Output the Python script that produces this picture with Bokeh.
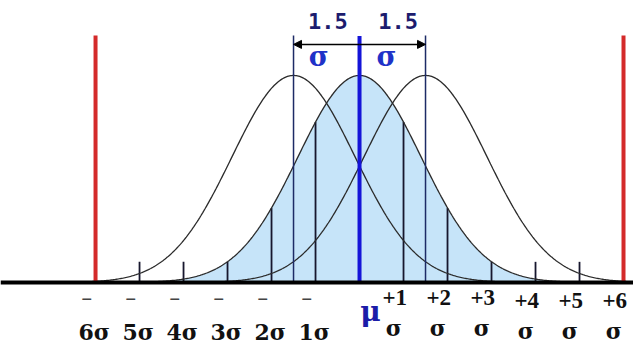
import numpy as np
from bokeh.plotting import figure
from bokeh.models import Range1d, Span, Arrow, NormalHead
from bokeh.core.properties import value
from bokeh.embed import file_html
from bokeh.resources import INLINE

# ---------------- data ----------------
sigma_ticks = [-6, -5, -4, -3, -2, -1, 0, 1, 2, 3, 4, 5, 6]
spec_limits = [-6, 6]
process_mean = 0.0
mean_shift = 1.5
curve_means = [-1.5, 0.0, 1.5]
curve_sd = 1.4          # width of each bell, in sigma-tick units
curve_peak = 1.0
curve_extent = 3.6      # bells drawn over +/- this many curve sds
min_tick_height = 0.1

neg_top_labels = ["\u2013", "\u2013", "\u2013", "\u2013", "\u2013", "\u2013"]
neg_bottom_labels = ["6\u03c3", "5\u03c3", "4\u03c3", "3\u03c3", "2\u03c3", "1\u03c3"]
pos_top_labels = ["+1", "+2", "+3", "+4", "+5", "+6"]
pos_bottom_labels = ["\u03c3", "\u03c3", "\u03c3", "\u03c3", "\u03c3", "\u03c3"]
shift_labels = ["1.5", "1.5"]
shift_sigma_labels = ["\u03c3", "\u03c3"]
mu_label = "\u03bc"

# ---------------- helpers ----------------
def bell(x, m):
    return curve_peak * np.exp(-0.5 * ((np.asarray(x, dtype=float) - m) / curve_sd) ** 2)

p = figure(width=633, height=345,
           x_range=Range1d(-8.16, 6.227), y_range=Range1d(-0.304, 1.362),
           output_backend="svg", toolbar_location=None,
           x_axis_type=None, y_axis_type=None,
           min_border=0, outline_line_color=None,
           background_fill_color="white", border_fill_color="white")
p.xgrid.visible = False
p.ygrid.visible = False

# shaded centred distribution
xc = np.linspace(process_mean - curve_extent * curve_sd,
                 process_mean + curve_extent * curve_sd, 400)
p.varea(x=xc, y1=0, y2=bell(xc, process_mean), fill_color="#c6e4f9")

# sigma-zone lines under the centred curve
inner = [k for k in sigma_ticks if k != 0 and k not in spec_limits]
heights = [max(float(bell(k, process_mean)), min_tick_height) for k in inner]
p.segment(x0=inner, y0=[0] * len(inner), x1=inner, y1=heights,
          line_color="#17172e", line_width=1.8)

# the three bells
for m in curve_means:
    xs = np.linspace(m - curve_extent * curve_sd, m + curve_extent * curve_sd, 400)
    p.line(xs, bell(xs, m), line_color="#2b2b2b", line_width=1.3)

# shifted-mean lines
top = 1.193
shifted = [process_mean - mean_shift, process_mean + mean_shift]
p.segment(x0=shifted, y0=[0, 0], x1=shifted, y1=[top, top],
          line_color="#1d2b66", line_width=1.5)

# spec limits (red)
p.segment(x0=spec_limits, y0=[0, 0], x1=spec_limits, y1=[top, top],
          line_color="#d42a2a", line_width=4)

# mean (blue)
p.segment(x0=[process_mean], y0=[0], x1=[process_mean], y1=[1.19],
          line_color="#1414d8", line_width=4)

# baseline
p.add_layout(Span(location=0, dimension="width", line_color="black", line_width=4))

# arrows showing the 1.5 sigma shift
ay = 1.15
for s in shifted:
    p.add_layout(Arrow(end=NormalHead(size=8, fill_color="black", line_color="black"),
                       x_start=process_mean, y_start=ay, x_end=s, y_end=ay,
                       line_color="black", line_width=1.5))

# shift labels
p.text(x=[-0.72, 0.88], y=[1.262, 1.262], text=shift_labels,
       text_font=value("DejaVu Sans Mono"), text_font_style="bold",
       text_font_size="22px", text_color="#1c1c6e",
       text_align="center", text_baseline="middle")
p.text(x=[-0.93, 0.61], y=[1.09, 1.09], text=shift_sigma_labels,
       text_font=value("DejaVu Serif"), text_font_style="bold",
       text_font_size="27px", text_color="#1f32c8",
       text_align="center", text_baseline="middle")

# tick labels, negative side
neg = [k for k in sigma_ticks if k < 0]
p.text(x=[k - 0.2 for k in neg], y=[-0.072] * len(neg), text=neg_top_labels,
       text_font=value("DejaVu Sans"), text_font_size="22px", text_color="#444444",
       text_align="center", text_baseline="middle")
p.text(x=[k - 0.03 for k in neg], y=[-0.24] * len(neg), text=neg_bottom_labels,
       text_font=value("DejaVu Serif"), text_font_style="bold",
       text_font_size="22px", text_color="#111111",
       text_align="center", text_baseline="middle")

# tick labels, positive side
pos = [k for k in sigma_ticks if k > 0]
p.text(x=[k - 0.2 for k in pos], y=[-0.072 if k <= 3 else -0.087 for k in pos],
       text=pos_top_labels,
       text_font=value("Liberation Serif"), text_font_style="bold",
       text_font_size="23px", text_color="#111111",
       text_align="center", text_baseline="middle")
p.text(x=[k - 0.22 for k in pos], y=[-0.218 if k <= 3 else -0.235 for k in pos],
       text=pos_bottom_labels,
       text_font=value("DejaVu Serif"), text_font_style="bold",
       text_font_size="22px", text_color="#111111",
       text_align="center", text_baseline="middle")

# mu
p.text(x=[process_mean + 0.25], y=[-0.14], text=[mu_label],
       text_font=value("DejaVu Serif"), text_font_style="bold",
       text_font_size="28px", text_color="#1c1ca8",
       text_align="center", text_baseline="alphabetic")

open("out.html", "w").write(file_html(p, INLINE))
